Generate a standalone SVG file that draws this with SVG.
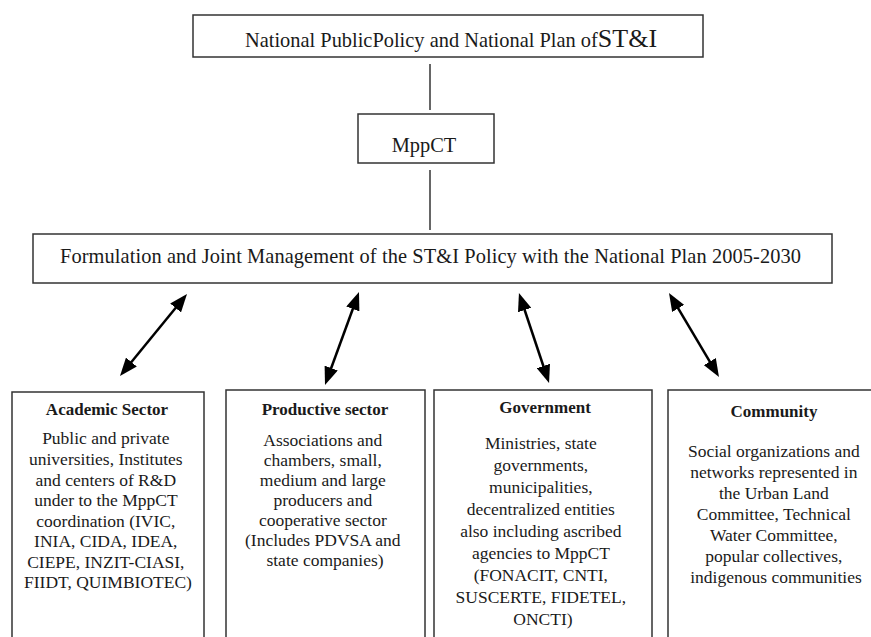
<svg xmlns="http://www.w3.org/2000/svg" width="871" height="637" viewBox="0 0 871 637">
<style>
  .box { fill: #fff; stroke: #333; stroke-width: 1.5; }
  .t { font-family: "Liberation Serif", "Times New Roman", serif; fill: #1a1a1a; }
  .big { font-size: 20.4px; }
  .title { font-size: 17px; font-weight: bold; text-anchor: middle; }
  .body { font-size: 17.5px; text-anchor: middle; }
  .link { stroke: #333; stroke-width: 1.5; fill: none; }
  .arrow { stroke: #000; stroke-width: 2.5; fill: none; marker-end: url(#headEnd); marker-start: url(#headStart); }
</style>
<defs>
  <marker id="headEnd" markerUnits="userSpaceOnUse" markerWidth="18" markerHeight="14" refX="9" refY="7" orient="auto" viewBox="0 0 18 14">
    <path d="M0,0 L18,7 L0,14 z" fill="#000"/>
  </marker>
  <marker id="headStart" markerUnits="userSpaceOnUse" markerWidth="18" markerHeight="14" refX="9" refY="7" orient="auto" viewBox="0 0 18 14">
    <path d="M18,0 L0,7 L18,14 z" fill="#000"/>
  </marker>
</defs>
<rect width="871" height="637" fill="#fff"/>

<g id="connectors">
  <line class="link" x1="430" y1="64" x2="430" y2="110"/>
  <line class="link" x1="430" y1="170" x2="430" y2="230"/>
  <line class="arrow" x1="181.3" y1="301" x2="125.7" y2="369"/>
  <line class="arrow" x1="355.9" y1="300.5" x2="328.1" y2="376.5"/>
  <line class="arrow" x1="521.8" y1="301.5" x2="546.2" y2="374.5"/>
  <line class="arrow" x1="673.6" y1="300.7" x2="714.4" y2="369.3"/>
</g>

<g id="national-policy">
  <rect class="box" x="193" y="15" width="510" height="42"/>
  <text class="t big" x="245" y="47">National PublicPolicy and National Plan of<tspan font-size="26">ST&amp;I</tspan></text>
</g>

<g id="mppct">
  <rect class="box" x="358" y="114" width="136" height="49"/>
  <text class="t big" x="424" y="152" text-anchor="middle">MppCT</text>
</g>

<g id="formulation">
  <rect class="box" x="33" y="234" width="799" height="49"/>
  <text class="t big" x="60" y="263" textLength="741" lengthAdjust="spacing">Formulation and Joint Management of the ST&amp;I Policy with the National Plan 2005-2030</text>
</g>

<g id="academic">
  <rect class="box" x="12" y="392" width="192" height="270"/>
  <text class="t title" x="107" y="415">Academic Sector</text>
  <text class="t body">
    <tspan x="108" y="444">Public and private</tspan>
    <tspan x="108" y="465">universities, Institutes</tspan>
    <tspan x="108" y="485.5">and centers of R&amp;D</tspan>
    <tspan x="108" y="506">under to the MppCT</tspan>
    <tspan x="108" y="526.5">coordination (IVIC,</tspan>
    <tspan x="108" y="547">INIA, CIDA, IDEA,</tspan>
    <tspan x="108" y="567.5">CIEPE, INZIT-CIASI,</tspan>
    <tspan x="108" y="588">FIIDT, QUIMBIOTEC)</tspan>
  </text>
</g>

<g id="productive">
  <rect class="box" x="226" y="390" width="199" height="270"/>
  <text class="t title" x="325" y="415">Productive sector</text>
  <text class="t body">
    <tspan x="325" y="446">Associations and</tspan>
    <tspan x="325" y="466">chambers, small,</tspan>
    <tspan x="325" y="486">medium and large</tspan>
    <tspan x="325" y="506">producers and</tspan>
    <tspan x="325" y="526">cooperative sector</tspan>
    <tspan x="325" y="546">(Includes PDVSA and</tspan>
    <tspan x="325" y="566">state companies)</tspan>
  </text>
</g>

<g id="government">
  <rect class="box" x="434" y="390" width="218" height="270"/>
  <text class="t title" x="545" y="413">Government</text>
  <text class="t body">
    <tspan x="543" y="449">Ministries, state</tspan>
    <tspan x="543" y="471">governments,</tspan>
    <tspan x="543" y="493">municipalities,</tspan>
    <tspan x="543" y="515">decentralized entities</tspan>
    <tspan x="543" y="537">also including ascribed</tspan>
    <tspan x="543" y="559">agencies to MppCT</tspan>
    <tspan x="543" y="581">(FONACIT, CNTI,</tspan>
    <tspan x="543" y="603">SUSCERTE, FIDETEL,</tspan>
    <tspan x="543" y="625">ONCTI)</tspan>
  </text>
</g>

<g id="community">
  <rect class="box" x="668" y="390" width="230" height="270"/>
  <text class="t title" x="774" y="417">Community</text>
  <text class="t body">
    <tspan x="776" y="457">Social organizations and</tspan>
    <tspan x="776" y="478">networks represented in</tspan>
    <tspan x="776" y="499">the Urban Land</tspan>
    <tspan x="776" y="520">Committee, Technical</tspan>
    <tspan x="776" y="541">Water Committee,</tspan>
    <tspan x="776" y="562">popular collectives,</tspan>
    <tspan x="776" y="583">indigenous communities</tspan>
  </text>
</g>
</svg>
